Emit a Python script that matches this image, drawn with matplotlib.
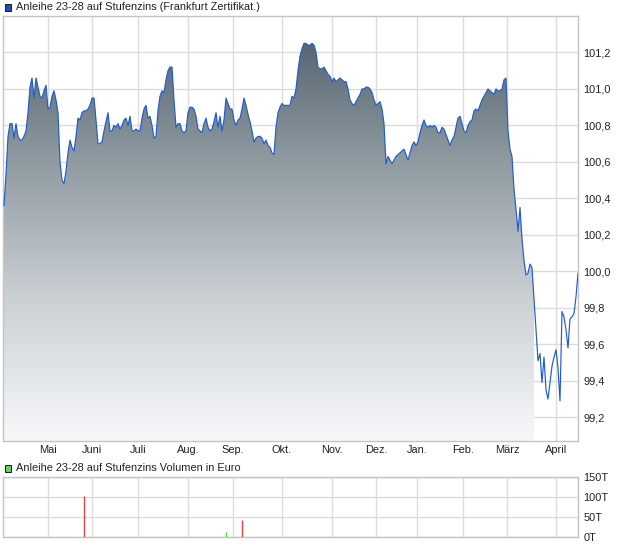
import numpy as np
import matplotlib
matplotlib.use("Agg")
import matplotlib.pyplot as plt
from matplotlib.patches import Rectangle
from matplotlib.colors import LinearSegmentedColormap

# ---------------- data ----------------
price = [
    100.36, 100.53, 100.74, 100.81, 100.81, 100.73, 100.81, 100.74, 100.72, 100.72,
    100.74, 100.77, 100.87, 101.01, 101.06, 100.95, 101.06, 101.01, 100.96, 100.95,
    100.99, 101.02, 100.89, 100.90, 100.96, 100.99, 100.94, 100.87, 100.60, 100.50,
    100.48, 100.55, 100.65, 100.72, 100.68, 100.66, 100.74, 100.84, 100.83, 100.87,
    100.88, 100.88, 100.89, 100.91, 100.95, 100.95, 100.83, 100.70, 100.70, 100.71,
    100.77, 100.82, 100.87, 100.77, 100.77, 100.80, 100.79, 100.81, 100.78, 100.80,
    100.83, 100.84, 100.80, 100.85, 100.77, 100.77, 100.78, 100.77, 100.77, 100.84,
    100.89, 100.91, 100.84, 100.85, 100.80, 100.73, 100.74, 100.88, 100.96, 100.99,
    100.98, 101.05, 101.10, 101.12, 101.12, 100.94, 100.79, 100.81, 100.81, 100.77,
    100.76, 100.77, 100.87, 100.90, 100.90, 100.89, 100.85, 100.78, 100.77, 100.76,
    100.81, 100.84, 100.79, 100.77, 100.78, 100.82, 100.87, 100.79, 100.85, 100.77,
    100.83, 100.95, 100.92, 100.89, 100.89, 100.83, 100.80, 100.83, 100.84, 100.89,
    100.95, 100.91, 100.86, 100.82, 100.77, 100.71, 100.73, 100.74, 100.74, 100.73,
    100.70, 100.72, 100.69, 100.68, 100.65, 100.64, 100.79, 100.87, 100.90, 100.92,
    100.91, 100.91, 100.91, 100.91, 100.96, 100.95, 101.00, 101.10, 101.18, 101.22,
    101.25, 101.25, 101.24, 101.24, 101.25, 101.24, 101.20, 101.12, 101.11, 101.11,
    101.12, 101.10, 101.08, 101.07, 101.04, 101.06, 101.04, 101.05, 101.06, 101.05,
    101.04, 101.04, 101.00, 100.94, 100.92, 100.91, 100.93, 100.95, 100.97, 101.00,
    101.00, 101.01, 101.01, 101.00, 100.98, 100.94, 100.91, 100.92, 100.93, 100.89,
    100.81, 100.59, 100.63, 100.61, 100.59, 100.61, 100.63, 100.64, 100.65, 100.66,
    100.67, 100.64, 100.61, 100.65, 100.69, 100.71, 100.69, 100.71, 100.76, 100.80,
    100.83, 100.80, 100.79, 100.80, 100.79, 100.80, 100.79, 100.76, 100.76, 100.79,
    100.78, 100.75, 100.72, 100.69, 100.72, 100.74, 100.79, 100.84, 100.85, 100.81,
    100.77, 100.76, 100.80, 100.82, 100.83, 100.88, 100.89, 100.88, 100.91, 100.94,
    100.96, 100.98, 101.00, 100.99, 100.98, 100.97, 101.00, 100.99, 100.99, 101.00,
    101.05, 101.06, 100.77, 100.67, 100.63, 100.45, 100.34, 100.22, 100.35, 100.18,
    100.06, 99.98, 99.99, 100.04, 100.02, 99.85, 99.68, 99.51, 99.55, 99.39,
    99.53, 99.35, 99.30, 99.39, 99.48, 99.53, 99.57, 99.47, 99.29, 99.78,
    99.75, 99.68, 99.58, 99.74, 99.75, 99.77, 99.86, 99.99,
]
fill_last = 265  # area fill stops here, line continues

month_labels = ["Mai", "Juni", "Juli", "Aug.", "Sep.", "Okt.", "Nov.",
                "Dez.", "Jan.", "Feb.", "März", "April"]
month_pos = [22, 44, 67, 92, 114.5, 139, 164, 186, 206.5, 229.5, 251.5, 276]

price_ticks = [99.2, 99.4, 99.6, 99.8, 100.0, 100.2, 100.4, 100.6, 100.8, 101.0, 101.2]
price_lim = (99.07, 101.40)

vol_idx = [40, 111, 119]
vol_val = [102, 12, 42]
vol_col = ["#e8413f", "#4fcf4f", "#e8413f"]
vol_ticks = [0, 50, 100, 150]
vol_tick_labels = ["0T", "50T", "100T", "150T"]

title_main = "Anleihe 23-28 auf Stufenzins (Frankfurt Zertifikat.)"
title_vol = "Anleihe 23-28 auf Stufenzins Volumen in Euro"

# ---------------- figure ----------------
plt.rcParams['font.family'] = ['Liberation Sans', 'DejaVu Sans']
W, H = 620, 546
fig = plt.figure(figsize=(W / 100, H / 100), dpi=100)
fig.patch.set_facecolor("white")

def ax_px(l, t, r, b):
    return fig.add_axes([l / W, 1 - b / H, (r - l) / W, (b - t) / H])

grid_c = "#dcdcdc"
spine_c = "#c4c4c4"
txt_c = "#222222"
fs = 7.9

x = np.arange(len(price))
p = np.array(price)
xlim = (-0.5, 287.0)

# main price panel
ax = ax_px(3, 16, 578, 441)
ax.set_xlim(*xlim)
ax.set_ylim(*price_lim)
ax.set_axisbelow(True)
ax.grid(True, color=grid_c, lw=1.0)

cmap = LinearSegmentedColormap.from_list(
    "g", ["#f7f8fa", "#cbd0d4", "#8e99a0", "#4b5b66"])
grad = np.linspace(0, 1, 256).reshape(-1, 1)
im = ax.imshow(grad, extent=[xlim[0], xlim[1], price_lim[0], price_lim[1]],
               origin="lower", aspect="auto", cmap=cmap, zorder=1,
               interpolation="bilinear")
poly = ax.fill_between(x[:fill_last + 1], p[:fill_last + 1], price_lim[0],
                       facecolor="none", edgecolor="none", zorder=1)
im.set_clip_path(poly.get_paths()[0], transform=ax.transData)
ax.plot(x, p, color="#1f5ccc", lw=0.85, zorder=3)

ax.yaxis.tick_right()
ax.set_yticks(price_ticks)
ax.set_yticklabels([f"{t:.1f}".replace(".", ",") for t in price_ticks])
ax.set_xticks(month_pos)
ax.set_xticklabels(month_labels)
ax.tick_params(axis="both", length=0, labelsize=fs, colors=txt_c)
ax.tick_params(axis="y", pad=4)
ax.tick_params(axis="x", pad=3)
for s in ax.spines.values():
    s.set_color(spine_c)
    s.set_linewidth(1.0)

# volume panel
av = ax_px(3, 477, 578, 537)
av.set_xlim(*xlim)
av.set_ylim(0, 150)
av.set_axisbelow(True)
av.grid(True, color=grid_c, lw=1.0)
av.vlines(vol_idx, 0, vol_val, colors=vol_col, lw=1.0, zorder=3)
av.yaxis.tick_right()
av.set_yticks(vol_ticks)
av.set_yticklabels(vol_tick_labels)
av.set_xticks(month_pos)
av.set_xticklabels([])
av.tick_params(axis="both", length=0, labelsize=fs, colors=txt_c)
av.tick_params(axis="y", pad=4)
for s in av.spines.values():
    s.set_color(spine_c)
    s.set_linewidth(1.0)

# titles with colour squares
fig.patches.append(Rectangle((4.5 / W, 1 - 10.5 / H), 7 / W, 7 / H,
                             transform=fig.transFigure, facecolor="#1f4fb8",
                             edgecolor="#1a1a1a", lw=0.7))
fig.text(16 / W, 1 - 7 / H, title_main, fontsize=fs, color=txt_c, va="center")
fig.patches.append(Rectangle((4.5 / W, 1 - 471.5 / H), 7 / W, 7 / H,
                             transform=fig.transFigure, facecolor="#5fd35f",
                             edgecolor="#1a1a1a", lw=0.7))
fig.text(16 / W, 1 - 468 / H, title_vol, fontsize=fs, color=txt_c, va="center")

fig.savefig("out.png", dpi=100)
